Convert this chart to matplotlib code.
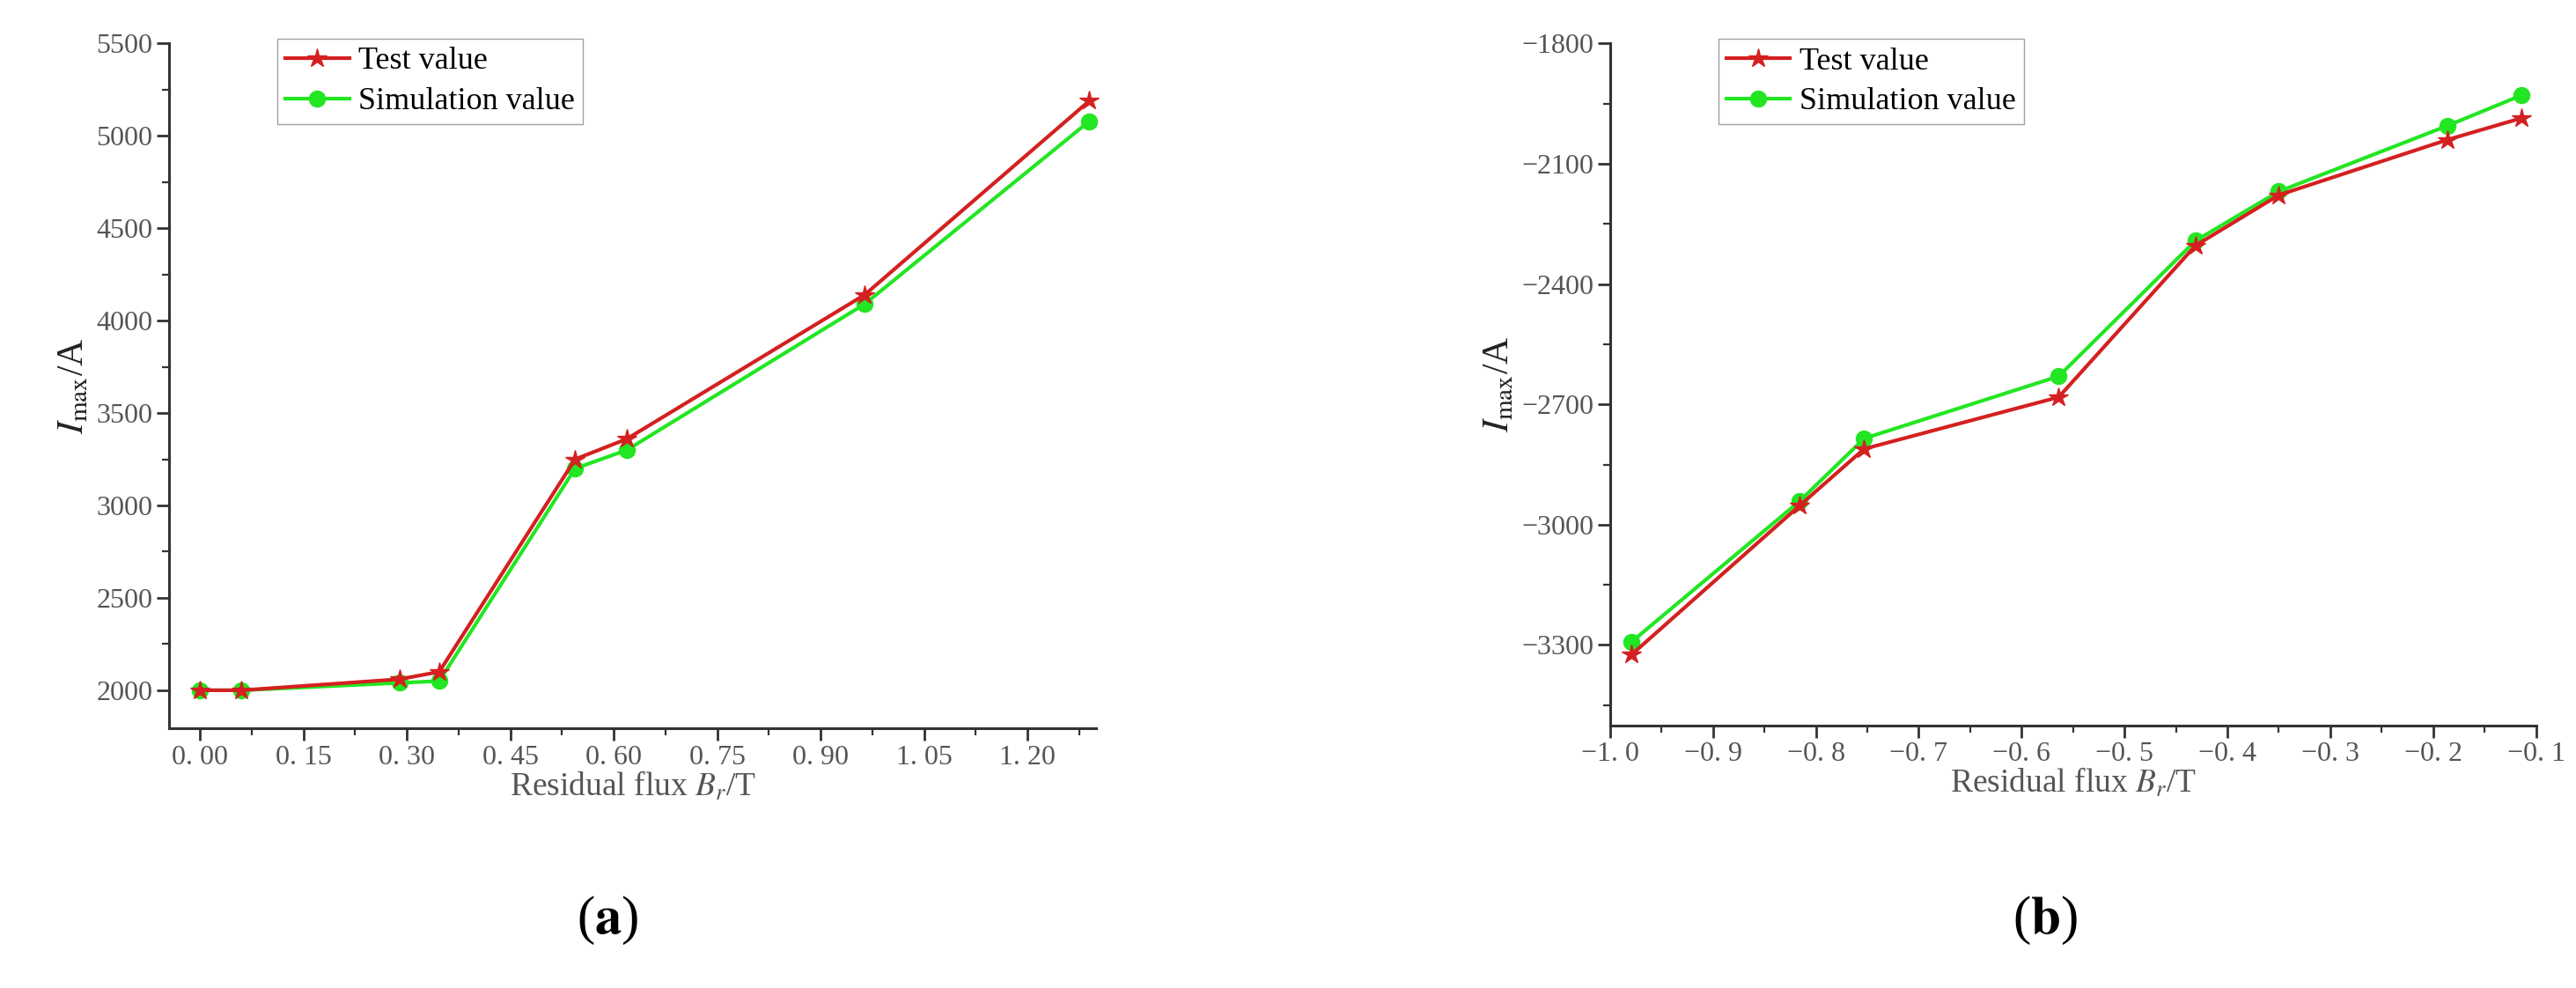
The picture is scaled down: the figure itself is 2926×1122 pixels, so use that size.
import numpy as np
import matplotlib.pyplot as plt
from matplotlib.ticker import MultipleLocator, AutoMinorLocator, FuncFormatter

plt.rcParams['font.family'] = ['Liberation Serif', 'DejaVu Serif']
plt.rcParams['mathtext.fontset'] = 'stix'

# panel (a)
flux_a = [0.0, 0.06, 0.29, 0.347, 0.544, 0.619, 0.964, 1.29]
test_a = [2000, 2000, 2060, 2100, 3250, 3360, 4140, 5190]
sim_a = [2000, 2000, 2040, 2050, 3200, 3300, 4090, 5080]

# panel (b)
flux_b = [-0.979, -0.816, -0.753, -0.564, -0.431, -0.35, -0.186, -0.114]
test_b = [-3324, -2953, -2811, -2682, -2304, -2178, -2040, -1986]
sim_b = [-3292, -2942, -2785, -2630, -2292, -2169, -2005, -1929]

RED = '#d42020'
GREEN = '#22e622'
GREY = '#555555'

fig = plt.figure(figsize=(29.26, 11.22), dpi=100)
ax_a = fig.add_axes([0.0656, 0.263, 0.36, 0.693])
ax_b = fig.add_axes([0.625, 0.266, 0.3595, 0.690])


def style(ax, xfmt):
    for s in ['top', 'right']:
        ax.spines[s].set_visible(False)
    for s in ['left', 'bottom']:
        ax.spines[s].set_linewidth(2.2)
        ax.spines[s].set_color('#333333')
    ax.tick_params(which='major', direction='out', length=10, width=2,
                   labelsize=23, labelcolor=GREY, color='#333333')
    ax.tick_params(which='minor', direction='out', length=6, width=1.6, color='#333333')
    ax.xaxis.set_minor_locator(AutoMinorLocator(2))
    ax.yaxis.set_minor_locator(AutoMinorLocator(2))
    ax.xaxis.set_major_formatter(FuncFormatter(xfmt))
    ax.set_xlabel(r'Residual flux $B_r$/T', fontsize=27, color=GREY, labelpad=0)
    ax.set_ylabel(r'$I_{\mathrm{max}}$/A', fontsize=30, color='#222222')
    ax.legend(loc='upper left', bbox_to_anchor=(0.1, 1.03), fontsize=26,
              fancybox=False, edgecolor='#888888', handlelength=2.0,
              borderpad=0.25, labelspacing=0.35, handletextpad=0.3)


for ax, x, t, s in [(ax_a, flux_a, test_a, sim_a), (ax_b, flux_b, test_b, sim_b)]:
    ax.plot(x, t, color=RED, lw=3, marker='*', ms=16, label='Test value', clip_on=False, zorder=3)
    ax.plot(x, s, color=GREEN, lw=3, marker='o', ms=13, label='Simulation value', clip_on=False, zorder=2)

ax_a.set_xlim(-0.045, 1.30)
ax_a.set_ylim(1795, 5500)
ax_a.xaxis.set_major_locator(MultipleLocator(0.15))
ax_a.yaxis.set_major_locator(MultipleLocator(500))
style(ax_a, lambda v, p: ('%.2f' % v).replace('.', '. '))

ax_b.set_xlim(-1.0, -0.1)
ax_b.set_ylim(-3500, -1800)
ax_b.xaxis.set_major_locator(MultipleLocator(0.1))
ax_b.yaxis.set_major_locator(MultipleLocator(300))
style(ax_b, lambda v, p: ('%.1f' % v).replace('.', '. ').replace('-', '\u2212'))

fig.text(0.236, 0.055, r'($\mathbf{a}$)', fontsize=44, ha='center')
fig.text(0.794, 0.055, r'($\mathbf{b}$)', fontsize=44, ha='center')

fig.savefig('out.png', dpi=100)
